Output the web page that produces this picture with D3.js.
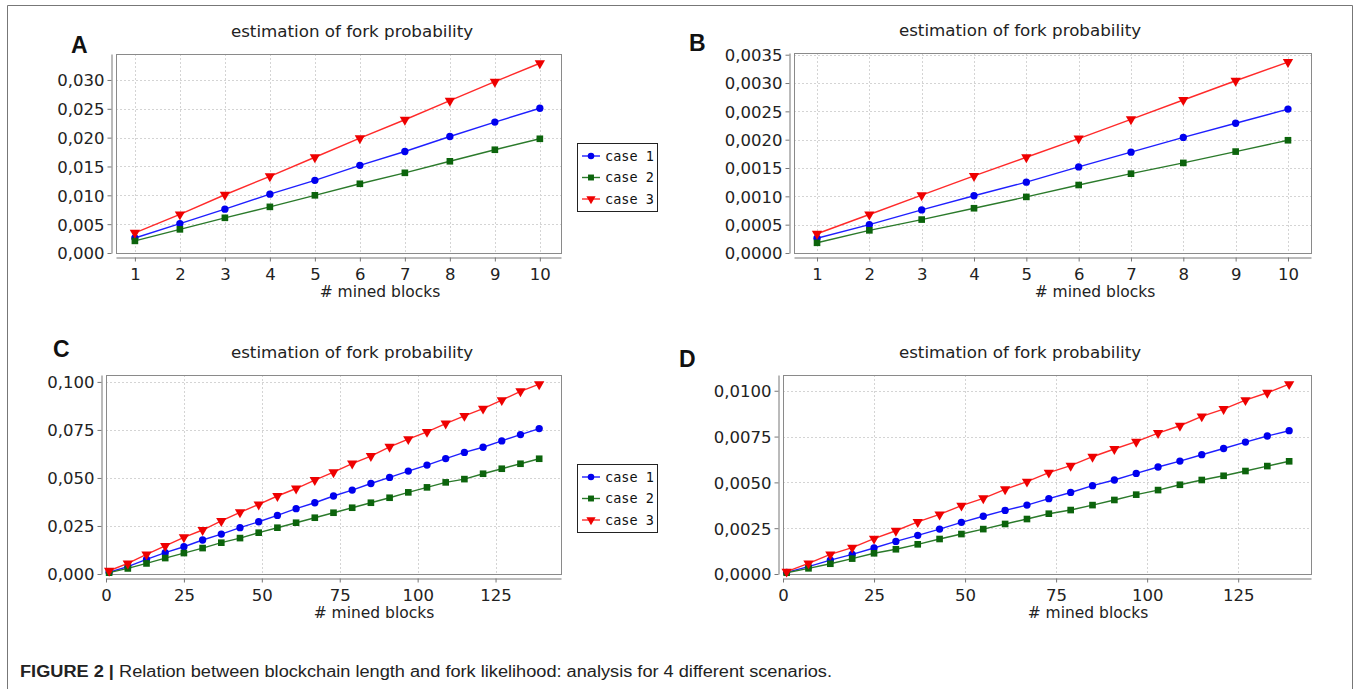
<!DOCTYPE html>
<html>
<head>
<meta charset="utf-8">
<script src="https://cdn.jsdelivr.net/npm/d3@7"></script>
<style>
  body { margin: 0; background: #fff; }
  svg { display: block; }
  .tick text { font-family: "DejaVu Sans", sans-serif; font-size: 16.5px; fill: #222; }
  .title { font-family: "DejaVu Sans", sans-serif; font-size: 16.7px; fill: #222; }
  .xlabel { font-family: "DejaVu Sans", sans-serif; font-size: 15.5px; fill: #222; }
  .panel-letter { font-family: "Liberation Sans", Arial, sans-serif; font-weight: bold; font-size: 23px; fill: #111; }
  .legend text { font-family: "DejaVu Sans Mono", monospace; font-size: 13.5px; fill: #111; }
</style>
</head>
<body>
<svg width="1354" height="689"></svg>
<script>
// x values: number of mined blocks
var blocksAB = [1, 2, 3, 4, 5, 6, 7, 8, 9, 10];
var blocksCD = [1, 7, 13, 19, 25, 31, 37, 43, 49, 55, 61, 67, 73, 79, 85, 91, 97, 103, 109, 115, 121, 127, 133, 139];

// panel A
var caseA1 = [0.0026, 0.0051, 0.0076, 0.0102, 0.0126, 0.0152, 0.0176, 0.0202, 0.0227, 0.0251];
var caseA2 = [0.0021, 0.0041, 0.0061, 0.0080, 0.0100, 0.0120, 0.0139, 0.0159, 0.0179, 0.0198];
var caseA3 = [0.0035, 0.0067, 0.0101, 0.0133, 0.0166, 0.0199, 0.0231, 0.0264, 0.0297, 0.0329];

// panel B
var caseB1 = [0.00026, 0.00050, 0.00076, 0.00101, 0.00125, 0.00152, 0.00178, 0.00204, 0.00229, 0.00254];
var caseB2 = [0.00018, 0.00040, 0.00059, 0.00079, 0.00099, 0.00120, 0.00140, 0.00159, 0.00179, 0.00199];
var caseB3 = [0.00034, 0.00068, 0.00102, 0.00136, 0.00169, 0.00202, 0.00236, 0.00270, 0.00304, 0.00337];

// panel C
var caseC1 = [0.0009, 0.0038, 0.0076, 0.0111, 0.0142, 0.0177, 0.0208, 0.0241, 0.0272, 0.0305, 0.0340, 0.0371,
              0.0406, 0.0437, 0.0471, 0.0503, 0.0536, 0.0567, 0.0601, 0.0633, 0.0660, 0.0693, 0.0726, 0.0757];
var caseC2 = [0.0007, 0.0029, 0.0055, 0.0083, 0.0109, 0.0135, 0.0163, 0.0187, 0.0215, 0.0241, 0.0267, 0.0293,
              0.0319, 0.0345, 0.0371, 0.0397, 0.0425, 0.0451, 0.0477, 0.0494, 0.0522, 0.0548, 0.0574, 0.0600];
var caseC3 = [0.0017, 0.0055, 0.0102, 0.0146, 0.0191, 0.0229, 0.0276, 0.0321, 0.0362, 0.0406, 0.0445, 0.0489,
              0.0530, 0.0575, 0.0614, 0.0662, 0.0702, 0.0740, 0.0783, 0.0823, 0.0861, 0.0905, 0.0951, 0.0988];

// panel D
var caseD1 = [0.00009, 0.00040, 0.00076, 0.00107, 0.00142, 0.00178, 0.00211, 0.00245, 0.00282, 0.00315, 0.00347, 0.00376,
              0.00411, 0.00445, 0.00482, 0.00513, 0.00549, 0.00584, 0.00616, 0.00651, 0.00685, 0.00720, 0.00753, 0.00782];
var caseD2 = [0.00007, 0.00031, 0.00056, 0.00084, 0.00113, 0.00135, 0.00162, 0.00191, 0.00218, 0.00245, 0.00273, 0.00300,
              0.00329, 0.00349, 0.00376, 0.00404, 0.00433, 0.00458, 0.00487, 0.00513, 0.00536, 0.00562, 0.00589, 0.00615];
var caseD3 = [0.00013, 0.00058, 0.00107, 0.00144, 0.00193, 0.00236, 0.00284, 0.00325, 0.00373, 0.00413, 0.00462, 0.00504,
              0.00553, 0.00591, 0.00640, 0.00682, 0.00722, 0.00769, 0.00809, 0.00860, 0.00900, 0.00949, 0.00989, 0.01036];

// tick values
var xTicksAB = [1, 2, 3, 4, 5, 6, 7, 8, 9, 10];
var xTicksCD = [0, 25, 50, 75, 100, 125];
var yTicksA = [0, 0.005, 0.010, 0.015, 0.020, 0.025, 0.030];
var yTicksB = [0, 0.0005, 0.0010, 0.0015, 0.0020, 0.0025, 0.0030, 0.0035];
var yTicksC = [0, 0.025, 0.050, 0.075, 0.100];
var yTicksD = [0, 0.0025, 0.0050, 0.0075, 0.0100];

var seriesNames = ['case 1', 'case 2', 'case 3'];
var lineColors = ['#1f1fff', '#2b7a2b', '#ff2a2a'];
var markColors = ['#0000ee', '#0c640c', '#ee0000'];
var symbols = [d3.symbolCircle, d3.symbolSquare, d3.symbolTriangle];
var symbolSizes = [42, 44, 46];

var svg = d3.select('svg');

// outer frame of the figure
svg.append('path')
    .attr('d', 'M7.5,689 V5.5 H1352.5 V689')
    .attr('fill', 'none')
    .attr('stroke', '#777')
    .attr('stroke-width', 1);

var panels = [
    {letter: 'A', lx: 71, ly: 53, x0: 116, x1: 561, y0: 54, y1: 253, xd: [0.58, 10.47], yd: [0, 0.0345],
     xs: blocksAB, ys: [caseA1, caseA2, caseA3], xt: xTicksAB, yt: yTicksA, dec: 3, tx: 352, xlx: 380},
    {letter: 'B', lx: 689, ly: 51, x0: 794, x1: 1311, y0: 53, y1: 253, xd: [0.56, 10.44], yd: [0, 0.00353],
     xs: blocksAB, ys: [caseB1, caseB2, caseB3], xt: xTicksAB, yt: yTicksB, dec: 4, tx: 1020, xlx: 1095},
    {letter: 'C', lx: 53, ly: 357, x0: 106, x1: 561, y0: 375, y1: 574, xd: [0, 146], yd: [0, 0.1036],
     xs: blocksCD, ys: [caseC1, caseC2, caseC3], xt: xTicksCD, yt: yTicksC, dec: 3, tx: 352, xlx: 374},
    {letter: 'D', lx: 679, ly: 367, x0: 783, x1: 1311, y0: 375, y1: 574, xd: [0, 145], yd: [0, 0.01086],
     xs: blocksCD, ys: [caseD1, caseD2, caseD3], xt: xTicksCD, yt: yTicksD, dec: 4, tx: 1020, xlx: 1088}
];

panels.forEach(function(p) {
    var xScale = d3.scaleLinear().domain(p.xd).range([p.x0, p.x1]);
    var yScale = d3.scaleLinear().domain(p.yd).range([p.y1, p.y0]);
    var fmt = function(d) { return d3.format('.' + p.dec + 'f')(d).replace('.', ','); };
    var g = svg.append('g');

    g.append('text').attr('class', 'panel-letter')
        .attr('x', p.lx).attr('y', p.ly).text(p.letter);

    g.append('text').attr('class', 'title')
        .attr('x', p.tx).attr('y', p.y0 - 17)
        .attr('text-anchor', 'middle')
        .text('estimation of fork probability');

    // plot background
    g.append('rect')
        .attr('x', p.x0).attr('y', p.y0)
        .attr('width', p.x1 - p.x0).attr('height', p.y1 - p.y0)
        .attr('fill', '#fff');

    // grid lines
    g.append('g').selectAll('line.vg')
        .data(p.xt.filter(function(d) { return xScale(d) > p.x0 + 1; }))
        .enter().append('line')
        .attr('x1', function(d) { return Math.round(xScale(d)) + 0.5; })
        .attr('x2', function(d) { return Math.round(xScale(d)) + 0.5; })
        .attr('y1', p.y0).attr('y2', p.y1)
        .attr('stroke', '#d4d4d4').attr('stroke-dasharray', '2,2');
    g.append('g').selectAll('line.hg')
        .data(p.yt.filter(function(d) { return d > 0; }))
        .enter().append('line')
        .attr('y1', function(d) { return Math.round(yScale(d)) + 0.5; })
        .attr('y2', function(d) { return Math.round(yScale(d)) + 0.5; })
        .attr('x1', p.x0).attr('x2', p.x1)
        .attr('stroke', '#d4d4d4').attr('stroke-dasharray', '2,2');

    g.append('rect')
        .attr('x', p.x0 + 0.5).attr('y', p.y0 + 0.5)
        .attr('width', p.x1 - p.x0).attr('height', p.y1 - p.y0)
        .attr('fill', 'none').attr('stroke', '#8a8a8a');

    // axes, slightly offset from the plot box
    var xAxis = g.append('g')
        .attr('transform', 'translate(0,' + (p.y1 + 4.5) + ')')
        .call(d3.axisBottom(xScale).tickValues(p.xt).tickSize(4).tickPadding(4).tickSizeOuter(0));
    var yAxis = g.append('g')
        .attr('transform', 'translate(' + (p.x0 - 4.5) + ',0)')
        .call(d3.axisLeft(yScale).tickValues(p.yt).tickFormat(fmt).tickSize(4).tickPadding(3).tickSizeOuter(0));
    [xAxis, yAxis].forEach(function(a) {
        a.select('.domain').attr('stroke', '#777');
        a.selectAll('.tick line').attr('stroke', '#777');
    });
    xAxis.selectAll('.tick text').attr('dy', '0.9em');
    yAxis.selectAll('.tick text').attr('dy', '0.36em');

    g.append('text').attr('class', 'xlabel')
        .attr('x', p.xlx).attr('y', p.y1 + 44)
        .attr('text-anchor', 'middle')
        .text('# mined blocks');

    // series
    var line = d3.line()
        .x(function(d) { return xScale(d[0]); })
        .y(function(d) { return yScale(d[1]); });
    p.ys.forEach(function(vals, si) {
        var pts = p.xs.map(function(x, i) { return [x, vals[i]]; });
        g.append('path').datum(pts)
            .attr('d', line)
            .attr('fill', 'none')
            .attr('stroke', lineColors[si])
            .attr('stroke-width', 1.4);
        g.append('g').selectAll('path')
            .data(pts).enter().append('path')
            .attr('d', d3.symbol().type(symbols[si]).size(symbolSizes[si]))
            .attr('transform', function(d) {
                return 'translate(' + xScale(d[0]) + ',' + yScale(d[1]) + ')' + (si === 2 ? ' rotate(180)' : '');
            })
            .attr('fill', markColors[si]);
    });
});

// legends between the panel pairs
[{x: 577, y: 143}, {x: 577, y: 464}].forEach(function(L) {
    var lg = svg.append('g').attr('class', 'legend')
        .attr('transform', 'translate(' + L.x + ',' + L.y + ')');
    lg.append('rect')
        .attr('x', 0.5).attr('y', 0.5).attr('width', 80).attr('height', 68)
        .attr('fill', '#fff').attr('stroke', '#222');
    seriesNames.forEach(function(name, i) {
        var cy = 13 + i * 21.5;
        lg.append('line')
            .attr('x1', 5).attr('x2', 23).attr('y1', cy).attr('y2', cy)
            .attr('stroke', lineColors[i]).attr('stroke-width', 1.4);
        lg.append('path')
            .attr('d', d3.symbol().type(symbols[i]).size(symbolSizes[i] * 0.8))
            .attr('transform', 'translate(14,' + cy + ')' + (i === 2 ? ' rotate(180)' : ''))
            .attr('fill', markColors[i]);
        lg.append('text')
            .attr('x', 28).attr('y', cy).attr('dy', '0.35em')
            .text(name);
    });
});

// caption
var cap = svg.append('text')
    .attr('x', 20).attr('y', 677)
    .attr('textLength', 812)
    .attr('lengthAdjust', 'spacingAndGlyphs')
    .style('font-family', '"Liberation Sans", Arial, sans-serif')
    .style('font-size', '16px')
    .style('fill', '#222');
cap.append('tspan').style('font-weight', 'bold').text('FIGURE 2 |');
cap.append('tspan').text(' Relation between blockchain length and fork likelihood: analysis for 4 different scenarios.');
</script>
</body>
</html>
